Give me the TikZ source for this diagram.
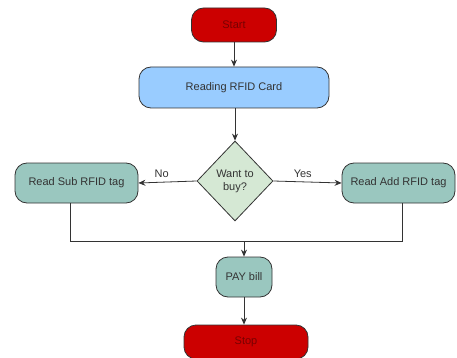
\documentclass[tikz,border=0pt]{standalone}
\usepackage{fontspec}
\setmainfont{Liberation Sans}
\usetikzlibrary{shapes.geometric,arrows.meta}
\definecolor{termred}{RGB}{204,0,0}
\definecolor{termtext}{RGB}{120,0,0}
\definecolor{procblue}{RGB}{153,204,255}
\definecolor{decgreen}{RGB}{213,232,212}
\definecolor{tealbox}{RGB}{154,199,191}
\definecolor{edgegray}{RGB}{51,51,51}
\tikzset{
  base/.style={draw=edgegray, line width=0.8pt, font=\fontsize{11}{13}\selectfont, text=black!80, inner sep=0pt},
  term/.style={base, fill=termred, rounded corners=12pt, text=termtext},
  proc/.style={base, fill=procblue, rounded corners=12pt},
  teal/.style={base, fill=tealbox, rounded corners=12pt},
  dec/.style={base, fill=decgreen, diamond, aspect=0.95, align=center, inner sep=1pt},
  conn/.style={draw=edgegray, line width=0.8pt, -{Stealth[length=7pt,width=6pt]}},
  plain/.style={draw=edgegray, line width=0.8pt},
  lbl/.style={font=\fontsize{11}{13}\selectfont, text=black!80}
}
\begin{document}
\begin{tikzpicture}[x=1pt,y=-1pt]
\useasboundingbox (0,0) rectangle (457,358);
\node[term, minimum width=85pt, minimum height=34pt] (start) at (234,25) {Start};
\node[proc, minimum width=190pt, minimum height=41pt] (read) at (234,87.5) {Reading RFID Card};
\node[dec, minimum width=76pt, minimum height=80pt] (buy) at (235,181) {Want to\\buy?};
\node[teal, minimum width=123pt, minimum height=40pt] (sub) at (76.5,183) {Read Sub RFID tag};
\node[teal, minimum width=113pt, minimum height=40pt] (add) at (398.5,183) {Read Add RFID tag};
\node[teal, minimum width=56pt, minimum height=40pt] (pay) at (244,277) {PAY bill};
\node[term, minimum width=124pt, minimum height=34pt] (stop) at (246,342) {Stop};
\coordinate (j) at (244,241);
\coordinate (sj) at (70,241);
\coordinate (aj) at (402,241);

\draw[conn] (start) -- (read);
\draw[conn] (read.south -| buy.north) -- (buy.north);
\draw[conn] (buy.west) -- node[lbl, above=1pt, pos=0.6] {No} (sub.east);
\draw[conn] (buy.east) -- node[lbl, above=1pt, pos=0.43] {Yes} (add.west);
\draw[plain] (sub.south -| sj) -- (sj) -- (j);
\draw[plain] (add.south -| aj) -- (aj) -- (j);
\draw[conn] (j) -- (pay.north);
\draw[conn] (pay.south) -- (pay.south |- stop.north);
\end{tikzpicture}
\end{document}
